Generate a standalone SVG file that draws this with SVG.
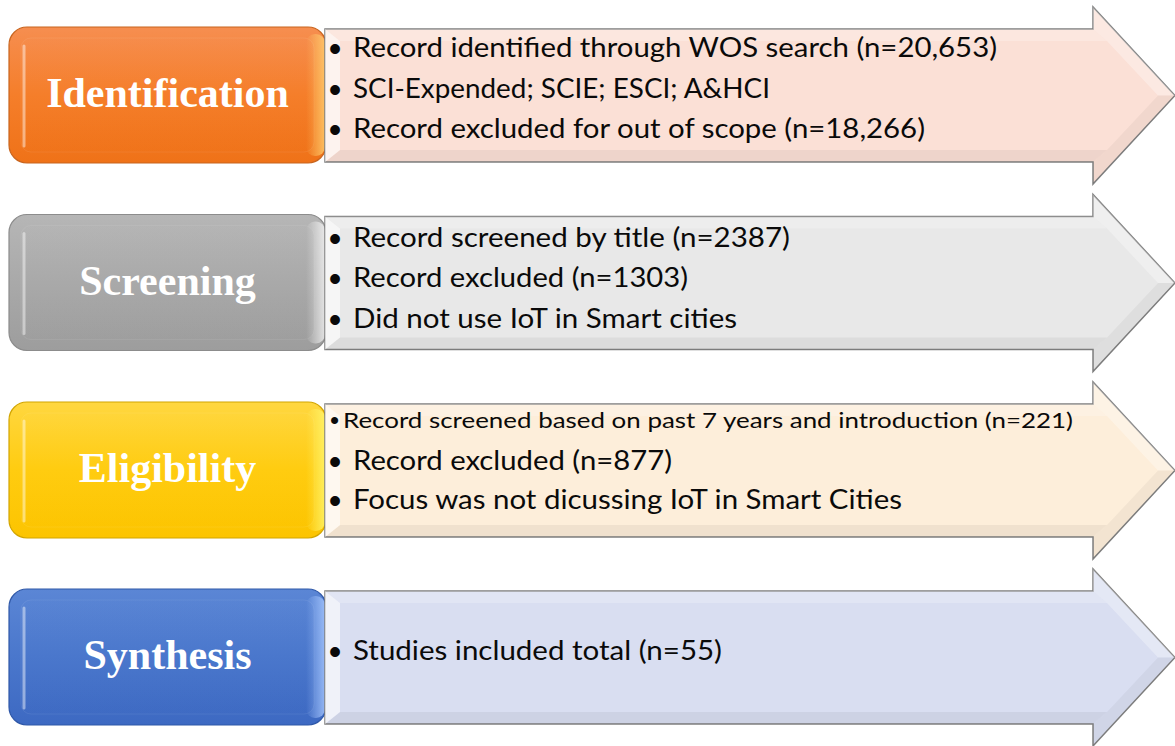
<svg xmlns="http://www.w3.org/2000/svg" width="1175" height="746" viewBox="0 0 1175 746">
<style>
.lbl{font-family:"Liberation Serif","Times New Roman",serif;font-weight:bold;font-size:42px;fill:#fff;text-anchor:middle}
.txt{font-family:Lato,"Liberation Sans",sans-serif;font-size:26px;fill:#0a0a0a}
.sm{font-size:22px}
.bul{font-family:"Liberation Sans",sans-serif;font-size:36px;fill:#0a0a0a;text-anchor:middle}
.bsm{font-size:26px}
.arrow{stroke:#7f7f7f;stroke-width:1.5}
.lf{fill:#fff;fill-opacity:.6}
.tf{fill:#fff;fill-opacity:.22}
.hu{fill:#fff;fill-opacity:.3}
.hl{fill:#000;fill-opacity:.04}
.bf{fill:#000;fill-opacity:.05}
.hl2{fill:none;stroke:#fff;stroke-opacity:.45;stroke-width:3;stroke-linecap:round}
.inner{fill-opacity:.25;stroke:#fff;stroke-opacity:.07;stroke-width:1}
</style>
<defs>
<linearGradient id="gO" x1="0" y1="0" x2="0" y2="1"><stop offset="0" stop-color="#F68E50"/><stop offset=".5" stop-color="#F57E2A"/><stop offset="1" stop-color="#EF7218"/></linearGradient>
<linearGradient id="gG" x1="0" y1="0" x2="0" y2="1"><stop offset="0" stop-color="#B6B6B6"/><stop offset=".5" stop-color="#A9A9A9"/><stop offset="1" stop-color="#9D9D9D"/></linearGradient>
<linearGradient id="gY" x1="0" y1="0" x2="0" y2="1"><stop offset="0" stop-color="#FFD740"/><stop offset=".5" stop-color="#FFCC10"/><stop offset="1" stop-color="#FCC400"/></linearGradient>
<linearGradient id="gB" x1="0" y1="0" x2="0" y2="1"><stop offset="0" stop-color="#5B86D5"/><stop offset=".5" stop-color="#4A77CC"/><stop offset="1" stop-color="#3D69C2"/></linearGradient>
<linearGradient id="rimO" x1="0" y1="0" x2="1" y2="0"><stop offset="0" stop-color="#FFD070" stop-opacity="0"/><stop offset="1" stop-color="#FFD070" stop-opacity=".8"/></linearGradient>
<linearGradient id="rimG" x1="0" y1="0" x2="1" y2="0"><stop offset="0" stop-color="#fff" stop-opacity="0"/><stop offset="1" stop-color="#fff" stop-opacity=".7"/></linearGradient>
<linearGradient id="rimY" x1="0" y1="0" x2="1" y2="0"><stop offset="0" stop-color="#FFF56A" stop-opacity="0"/><stop offset="1" stop-color="#FFF56A" stop-opacity=".85"/></linearGradient>
<linearGradient id="rimB" x1="0" y1="0" x2="1" y2="0"><stop offset="0" stop-color="#A8C8FF" stop-opacity="0"/><stop offset="1" stop-color="#A8C8FF" stop-opacity=".8"/></linearGradient>
</defs>

<g id="connectors"></g>

<g id="identification">
  <rect x="9" y="27" width="317" height="136" rx="18" fill="url(#gO)" stroke="#C8651F" stroke-width="1.2"/>
  <rect x="306" y="34" width="19" height="122" rx="9" fill="url(#rimO)"/>
  <rect x="21" y="38" width="293" height="114" rx="10" fill="url(#gO)" class="inner"/>
  <line x1="24" y1="46" x2="24" y2="146" class="hl2"/>
  <text class="lbl" x="167.5" y="107">Identification</text>
</g>
<g id="identification-arrow">
  <path class="arrow" fill="#FBE0D6" d="M325,29 H1093 V7 L1175,95.5 L1093,184 V162 H325 Z"/>
  <polygon class="tf" points="325,29 1093,29 1107,41 340,41"/>
  <polygon class="hu" points="1093,29 1093,7 1175,95.5 1158,95.5 1107,41"/>
  <polygon class="hl" points="1175,95.5 1093,184 1093,162 1107,150 1158,95.5"/>
  <polygon class="bf" points="1093,162 325,162 340,150 1107,150"/>
  <polygon class="lf" points="325,29 340,41 340,150 325,162"/>
  <text class="bul" x="335" y="61">•</text>
  <text class="txt" x="353" y="57" textLength="644" lengthAdjust="spacingAndGlyphs">Record identified through WOS search (n=20,653)</text>
  <text class="bul" x="335" y="101.5">•</text>
  <text class="txt" x="353" y="97.5" textLength="417" lengthAdjust="spacingAndGlyphs">SCI-Expended; SCIE; ESCI; A&amp;HCI</text>
  <text class="bul" x="335" y="142">•</text>
  <text class="txt" x="353" y="138" textLength="572" lengthAdjust="spacingAndGlyphs">Record excluded for out of scope (n=18,266)</text>
</g>

<g id="screening" transform="translate(0,187.5)">
  <rect x="9" y="27" width="317" height="136" rx="18" fill="url(#gG)" stroke="#8C8C8C" stroke-width="1.2"/>
  <rect x="306" y="34" width="19" height="122" rx="9" fill="url(#rimG)"/>
  <rect x="21" y="38" width="293" height="114" rx="10" fill="url(#gG)" class="inner"/>
  <line x1="24" y1="46" x2="24" y2="146" class="hl2"/>
  <text class="lbl" x="167.5" y="107.5">Screening</text>
</g>
<g id="screening-arrow" transform="translate(0,187.5)">
  <path class="arrow" fill="#E8E8E8" d="M325,29 H1093 V7 L1175,95.5 L1093,184 V162 H325 Z"/>
  <polygon class="tf" points="325,29 1093,29 1107,41 340,41"/>
  <polygon class="hu" points="1093,29 1093,7 1175,95.5 1158,95.5 1107,41"/>
  <polygon class="hl" points="1175,95.5 1093,184 1093,162 1107,150 1158,95.5"/>
  <polygon class="bf" points="1093,162 325,162 340,150 1107,150"/>
  <polygon class="lf" points="325,29 340,41 340,150 325,162"/>
  <text class="bul" x="335" y="63.5">•</text>
  <text class="txt" x="353" y="59.5" textLength="437" lengthAdjust="spacingAndGlyphs">Record screened by title (n=2387)</text>
  <text class="bul" x="335" y="103.5">•</text>
  <text class="txt" x="353" y="99.5" textLength="335" lengthAdjust="spacingAndGlyphs">Record excluded (n=1303)</text>
  <text class="bul" x="335" y="144.5">•</text>
  <text class="txt" x="353" y="140.5" textLength="384" lengthAdjust="spacingAndGlyphs">Did not use IoT in Smart cities</text>
</g>

<g id="eligibility" transform="translate(0,375)">
  <rect x="9" y="27" width="317" height="136" rx="18" fill="url(#gY)" stroke="#D2A500" stroke-width="1.2"/>
  <rect x="306" y="34" width="19" height="122" rx="9" fill="url(#rimY)"/>
  <rect x="21" y="38" width="293" height="114" rx="10" fill="url(#gY)" class="inner"/>
  <line x1="24" y1="46" x2="24" y2="146" class="hl2"/>
  <text class="lbl" x="167.5" y="107">Eligibility</text>
</g>
<g id="eligibility-arrow" transform="translate(0,375)">
  <path class="arrow" fill="#FDEEDA" d="M325,29 H1093 V7 L1175,95.5 L1093,184 V162 H325 Z"/>
  <polygon class="tf" points="325,29 1093,29 1107,41 340,41"/>
  <polygon class="hu" points="1093,29 1093,7 1175,95.5 1158,95.5 1107,41"/>
  <polygon class="hl" points="1175,95.5 1093,184 1093,162 1107,150 1158,95.5"/>
  <polygon class="bf" points="1093,162 325,162 340,150 1107,150"/>
  <polygon class="lf" points="325,29 340,41 340,150 325,162"/>
  <text class="bul bsm" x="334.5" y="54">•</text>
  <text class="txt sm" x="343" y="53" textLength="730" lengthAdjust="spacingAndGlyphs">Record screened based on past 7 years and introduction (n=221)</text>
  <text class="bul" x="335" y="98.5">•</text>
  <text class="txt" x="353" y="94.5" textLength="319" lengthAdjust="spacingAndGlyphs">Record excluded (n=877)</text>
  <text class="bul" x="335" y="137.5">•</text>
  <text class="txt" x="353" y="133.5" textLength="549" lengthAdjust="spacingAndGlyphs">Focus was not dicussing IoT in Smart Cities</text>
</g>

<g id="synthesis" transform="translate(0,562)">
  <rect x="9" y="27" width="317" height="136" rx="18" fill="url(#gB)" stroke="#2F58A8" stroke-width="1.2"/>
  <rect x="306" y="34" width="19" height="122" rx="9" fill="url(#rimB)"/>
  <rect x="21" y="38" width="293" height="114" rx="10" fill="url(#gB)" class="inner"/>
  <line x1="24" y1="46" x2="24" y2="146" class="hl2"/>
  <text class="lbl" x="167.5" y="107">Synthesis</text>
</g>
<g id="synthesis-arrow" transform="translate(0,562)">
  <path class="arrow" fill="#D9DEF1" d="M325,29 H1093 V7 L1175,95.5 L1093,184 V162 H325 Z"/>
  <polygon class="tf" points="325,29 1093,29 1107,41 340,41"/>
  <polygon class="hu" points="1093,29 1093,7 1175,95.5 1158,95.5 1107,41"/>
  <polygon class="hl" points="1175,95.5 1093,184 1093,162 1107,150 1158,95.5"/>
  <polygon class="bf" points="1093,162 325,162 340,150 1107,150"/>
  <polygon class="lf" points="325,29 340,41 340,150 325,162"/>
  <text class="bul" x="335" y="102">•</text>
  <text class="txt" x="353" y="98" textLength="369" lengthAdjust="spacingAndGlyphs">Studies included total (n=55)</text>
</g>
</svg>
